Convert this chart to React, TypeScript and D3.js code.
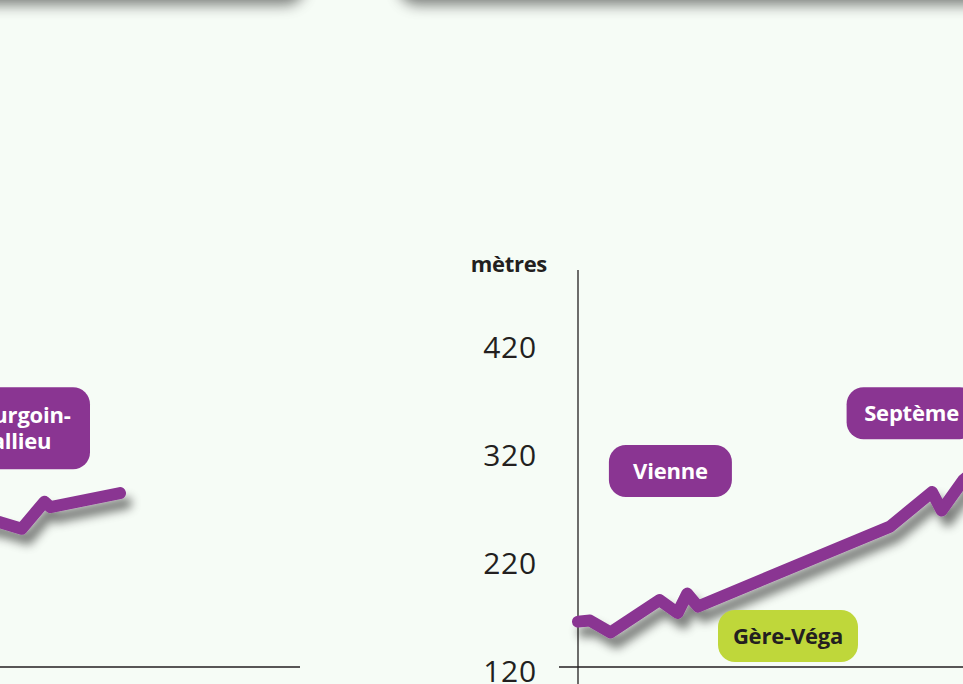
import * as d3 from "d3";

// altitude profile, right chart (km from start, metres)
const rightKm = [0, 1, 2.7, 6.8, 8.3, 9.1, 10, 26, 29.5, 30.3, 32.1, 34];
const rightAlt = [162, 163, 152, 182, 170, 188, 176, 250, 282, 265, 293, 310];

// end of the left chart's profile
const leftKm = [20, 23, 25, 26.8, 28.7, 29.2, 35];
const leftAlt = [268, 258, 254, 248, 273, 268, 281];

const yTicks = [120, 220, 320, 420];
const yTitle = "mètres";

const townNames = ["Bourgoin-\nJallieu", "Vienne", "Septème", "Gère-Véga"];
const townKm = [26.5, 7.7, 27.8, 17.5];
const townAlt = [341, 301.5, 355, 148.7];
const townSide = ["left", "right", "right", "right"];
const townKind = ["town", "town", "town", "river"];

const W = 963;
const H = 684;
const purple = "#8a3592";
const lime = "#bfd73a";
const ink = "#231f20";
const bg = "#f6fcf6";

const App = () => {
  const x = d3.scaleLinear().domain([0, 35]).range([578, 998]);
  const xLeft = d3.scaleLinear().domain([0, 35]).range([-300, 120]);
  const y = d3.scaleLinear().domain([120, 420]).range([667, 343]);

  const rightPath = d3
    .line<[number, number]>()
    .x((d) => x(d[0]))
    .y((d) => y(d[1]))(rightKm.map((k, i) => [k, rightAlt[i]]));
  const leftPath = d3
    .line<[number, number]>()
    .x((d) => xLeft(d[0]))
    .y((d) => y(d[1]))(leftKm.map((k, i) => [k, leftAlt[i]]));

  const boxW = [144, 123, 130, 140];

  return (
    <>
      <style>{`body{margin:0;background:${bg}}`}</style>
      <svg width={W} height={H} style={{ display: "block" }}>
        <defs>
          <filter id="lineShadow" filterUnits="userSpaceOnUse" x={-400} y={-200} width={1600} height={1100}>
            <feGaussianBlur in="SourceAlpha" stdDeviation="5" />
            <feOffset dx="6" dy="10" result="b" />
            <feFlood floodColor="#000" floodOpacity="0.5" />
            <feComposite in2="b" operator="in" />
            <feMerge>
              <feMergeNode />
              <feMergeNode in="SourceGraphic" />
            </feMerge>
          </filter>
          <filter id="cardShadow" filterUnits="userSpaceOnUse" x={-400} y={-200} width={1600} height={400}>
            <feGaussianBlur in="SourceAlpha" stdDeviation="7" />
            <feOffset dx="0" dy="7" result="b" />
            <feFlood floodColor="#000" floodOpacity="0.5" />
            <feComposite in2="b" operator="in" />
            <feMerge>
              <feMergeNode />
              <feMergeNode in="SourceGraphic" />
            </feMerge>
          </filter>
        </defs>
        <rect width={W} height={H} fill={bg} />

        {/* cards of the panel above */}
        <rect x={-40} y={-120} width={345} height={118} rx={20} fill={bg} filter="url(#cardShadow)" />
        <rect x={398} y={-120} width={620} height={118} rx={20} fill={bg} filter="url(#cardShadow)" />

        {/* left chart */}
        <line x1={0} x2={300} y1={y(120)} y2={y(120)} stroke={ink} strokeWidth={1.3} />
        <path
          d={leftPath ?? ""}
          fill="none"
          stroke={purple}
          strokeWidth={12}
          strokeLinecap="round"
          strokeLinejoin="round"
          filter="url(#lineShadow)"
        />

        {/* right chart axes */}
        <line x1={x(0)} x2={x(0)} y1={270} y2={H} stroke={ink} strokeWidth={1.3} />
        <line x1={x(0) - 19} x2={W} y1={y(120)} y2={y(120)} stroke={ink} strokeWidth={1.3} />
        <text
          x={x(0) - 31}
          y={272}
          textAnchor="end"
          fontFamily="Open Sans, sans-serif"
          fontWeight={700}
          fontSize={22}
          fill={ink}
          letterSpacing={-0.3}
        >
          {yTitle}
        </text>
        {yTicks.map((t) => (
          <text
            key={t}
            x={x(0) - 41}
            y={y(t) + 15}
            textAnchor="end"
            fontFamily="Open Sans, sans-serif"
            fontSize={30}
            letterSpacing={0.8}
            fill={ink}
          >
            {t}
          </text>
        ))}
        <path
          d={rightPath ?? ""}
          fill="none"
          stroke={purple}
          strokeWidth={12}
          strokeLinecap="round"
          strokeLinejoin="round"
          filter="url(#lineShadow)"
        />

        {/* town labels */}
        {townNames.map((name, i) => {
          const cx = townSide[i] === "left" ? xLeft(townKm[i]) : x(townKm[i]);
          const cy = y(townAlt[i]);
          const lines = name.split("\n");
          const h = lines.length > 1 ? 82 : 52;
          const river = townKind[i] === "river";
          return (
            <g key={name}>
              <rect
                x={cx - boxW[i] / 2}
                y={cy - h / 2}
                width={boxW[i]}
                height={h}
                rx={17}
                fill={river ? lime : purple}
              />
              <text
                x={cx}
                textAnchor="middle"
                fontFamily="Open Sans, sans-serif"
                fontWeight={700}
                fontSize={22}
                fill={river ? ink : "#ffffff"}
                letterSpacing={-0.2}
              >
                {lines.map((l, j) => (
                  <tspan key={j} x={cx} y={cy + 8 + (j - (lines.length - 1) / 2) * 26}>
                    {l}
                  </tspan>
                ))}
              </text>
            </g>
          );
        })}
      </svg>
    </>
  );
};

export default App;
